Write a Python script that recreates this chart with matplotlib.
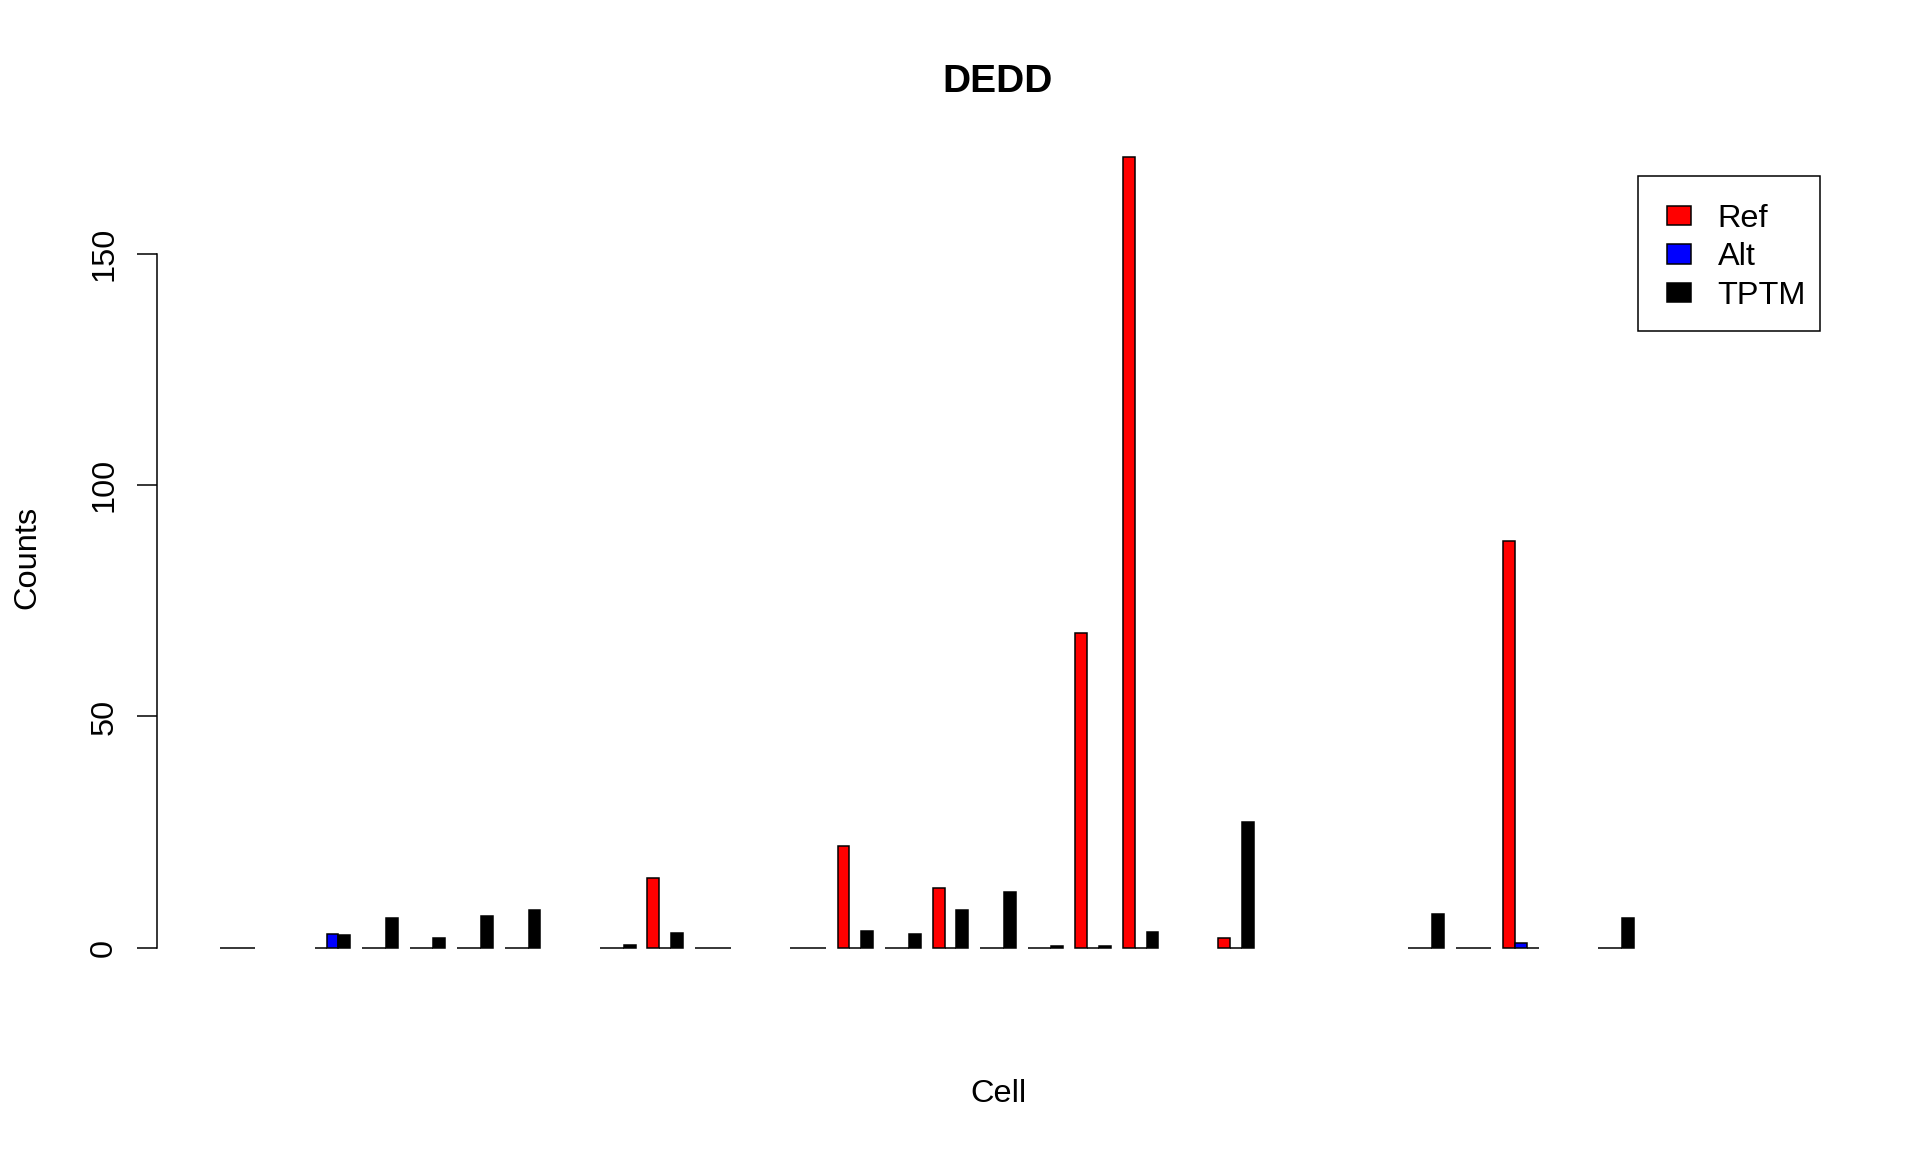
import matplotlib
matplotlib.use("Agg")
import matplotlib.pyplot as plt
from matplotlib.patches import Patch, Rectangle
import numpy as np

plt.rcParams['font.family'] = ['Liberation Sans', 'DejaVu Sans']

# ---------------- DADOS ----------------
# um valor por célula (33 células); None = sem dados (barra não desenhada)
ref_counts = [0, None, 0, 0, 0, 0, 0, None, 0, 15, 0, None, 0, 22, 0, 13, 0,
              0, 68, 171, None, 2, None, None, None, 0, 0, 88, None, 0,
              None, None, None]
alt_counts = [0, None, 3, 0, 0, 0, 0, None, 0, 0, 0, None, 0, 0, 0, 0, 0,
              0, 0, 0, None, 0, None, None, None, 0, 0, 1, None, 0,
              None, None, None]
tptm = [0, None, 2.7, 6.5, 2.2, 6.9, 8.2, None, 0.6, 3.2, 0, None, 0, 3.6,
        2.9, 8.2, 12.1, 0.3, 0.4, 3.3, None, 27.2, None, None, None, 7.3, 0,
        0, None, 6.4, None, None, None]

series_names = ["Ref", "Alt", "TPTM"]
series_colors = ["red", "blue", "black"]
y_ticks = [0, 50, 100, 150]

# ---------------- FIGURA ----------------
W, H = 1920, 1152
fig = plt.figure(figsize=(W / 100, H / 100), dpi=100)

# região do gráfico em pixels (como o par(mar) do R)
left_px, right_px = 157.3, 1838.7
top_px, bottom_px = 157.4, 956.0
ax = fig.add_axes([left_px / W, 1 - bottom_px / H,
                   (right_px - left_px) / W, (bottom_px - top_px) / H])

n = len(ref_counts)
# barplot(beside=TRUE): grupos de 3 barras + 1 espaço
series = [ref_counts, alt_counts, tptm]
for s, (vals, cor) in enumerate(zip(series, series_colors)):
    for g, v in enumerate(vals):
        if v is None:
            continue
        x = 4 * g + 1 + s
        ax.bar(x, v, width=1, align='edge', color=cor, edgecolor='black',
               linewidth=1.1, clip_on=False)

span = 4 * n - 1
ax.set_xlim(1 - 0.04 * span, 4 * n + 0.04 * span)
px_per_unit = 4.625
zero_px = 947.7
ax.set_ylim(-(bottom_px - zero_px) / px_per_unit,
            (zero_px - top_px) / px_per_unit)

for lado in ['top', 'right', 'bottom']:
    ax.spines[lado].set_visible(False)
ax.spines['left'].set_bounds(0, 150)
ax.spines['left'].set_linewidth(1.1)
ax.set_xticks([])
ax.set_yticks(y_ticks)
ax.set_yticklabels([str(t) for t in y_ticks], rotation=90, va='center')
ax.tick_params(axis='y', length=14.4, width=1.1, pad=13, labelsize=23.4)

# ---------------- TEXTOS ----------------
fig.text(998 / W, 1 - 92 / H, "DEDD", ha='center', va='baseline',
         fontsize=28, fontweight='bold')
fig.text(998 / W, 1 - 1102 / H, "Cell", ha='center', va='baseline',
         fontsize=23.4)
fig.text(35 / W, 1 - 557 / H, "Counts", ha='center', va='baseline',
         rotation=90, rotation_mode='anchor', fontsize=23.4)

# ---------------- LEGENDA ----------------
handles = [Patch(facecolor=c, edgecolor='black', linewidth=1.1)
           for c in series_colors]
leg = ax.legend(handles, series_names, loc='upper left',
                bbox_to_anchor=(1666.7 / W, 1 - 204 / H),
                bbox_transform=fig.transFigure, fontsize=23.4,
                handlelength=0.75, handleheight=0.54, handletextpad=0.82,
                labelspacing=0.26, borderpad=0, borderaxespad=0,
                frameon=False)

# caixa da legenda (como no legend() do R)
caixa = Rectangle((1638.4 / W, 1 - 330.7 / H), (1820 - 1638.4) / W,
                  (330.7 - 175.7) / H, transform=fig.transFigure,
                  fill=False, edgecolor='black', linewidth=1.1)
fig.add_artist(caixa)

fig.savefig("out.png", dpi=100, facecolor='white')
